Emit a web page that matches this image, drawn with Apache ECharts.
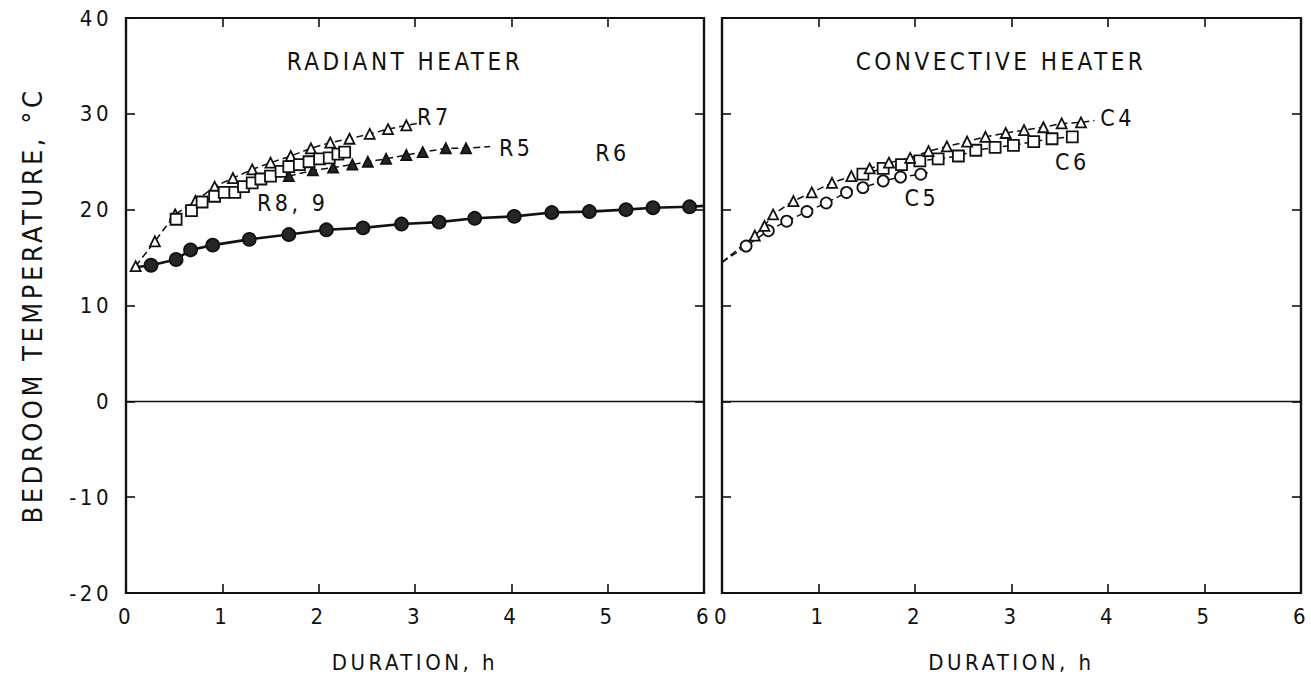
<!DOCTYPE html>
<html>
<head>
<meta charset="utf-8">
<script src="https://cdn.jsdelivr.net/npm/echarts@6/dist/echarts.min.js"></script>
<style>
  html, body { margin: 0; padding: 0; background: #fff; }
  #chart { width: 1311px; height: 680px; }
  #chart text { letter-spacing: 3.5px; }
</style>
</head>
<body>
<div id="chart"></div>
<script>
// duration (h), bedroom temperature (°C)
var R7 = [[0.10,14.1],[0.30,16.7],[0.51,19.5],[0.72,20.9],[0.92,22.4],[1.11,23.3],[1.31,24.2],[1.50,24.9],[1.71,25.6],[1.92,26.4],[2.12,27.0],[2.32,27.4],[2.53,27.9],[2.72,28.4],[2.91,28.8],[3.03,29.0]];
var R5 = [[1.69,23.5],[1.94,24.1],[2.15,24.4],[2.35,24.7],[2.51,25.0],[2.70,25.3],[2.91,25.7],[3.08,26.0],[3.32,26.4],[3.53,26.4],[3.78,26.6]];
var R89 = [[0.52,19.0],[0.68,19.9],[0.79,20.8],[0.92,21.4],[1.02,21.8],[1.13,21.8],[1.22,22.4],[1.31,22.8],[1.40,23.2],[1.50,23.5],[1.61,24.0],[1.69,24.5],[1.80,24.7],[1.90,25.0],[2.01,25.3],[2.11,25.4],[2.20,25.8],[2.27,26.0]];
var R6 = [[0.10,14.0],[0.26,14.2],[0.52,14.8],[0.67,15.8],[0.90,16.3],[1.28,16.9],[1.69,17.4],[2.08,17.9],[2.46,18.1],[2.86,18.5],[3.25,18.7],[3.62,19.1],[4.03,19.3],[4.42,19.7],[4.81,19.8],[5.19,20.0],[5.47,20.2],[5.85,20.3],[6.00,20.4]];
var C4 = [[0.00,14.5],[0.34,17.3],[0.44,18.3],[0.53,19.5],[0.74,20.9],[0.93,21.8],[1.14,22.8],[1.34,23.5],[1.53,24.3],[1.73,24.9],[1.95,25.4],[2.14,26.1],[2.33,26.6],[2.54,27.1],[2.73,27.6],[2.94,28.0],[3.13,28.3],[3.33,28.6],[3.52,29.0],[3.72,29.1],[3.86,29.3]];
var C5 = [[0.00,14.5],[0.25,16.2],[0.48,17.8],[0.67,18.8],[0.88,19.8],[1.08,20.7],[1.29,21.8],[1.46,22.3],[1.67,23.0],[1.85,23.4],[2.06,23.7],[2.16,23.9]];
var C6 = [[1.46,23.7],[1.67,24.3],[1.86,24.7],[2.05,25.1],[2.24,25.3],[2.45,25.6],[2.63,26.2],[2.83,26.5],[3.02,26.7],[3.23,27.1],[3.42,27.4],[3.63,27.6]];

var hourTicks = [0, 1, 2, 3, 4, 5, 6];
var tempTicks = [-20, -10, 0, 10, 20, 30, 40];

var FONT = "'DejaVu Sans Condensed', 'DejaVu Sans', sans-serif";

function xAx(grid, pos, labels) {
  return {
    type: 'value', gridIndex: grid, position: pos,
    min: hourTicks[0], max: hourTicks[hourTicks.length - 1], interval: 1,
    axisLine: { show: true, onZero: false, lineStyle: { color: '#111', width: 2.2 } },
    axisTick: { show: true, inside: true, length: 9, lineStyle: { color: '#111', width: 1.6 } },
    axisLabel: { show: labels, color: '#111', fontSize: 22, fontFamily: FONT, margin: 12 },
    splitLine: { show: false },
    name: labels ? 'DURATION, h' : '', nameLocation: 'middle', nameGap: 58,
    nameTextStyle: { color: '#111', fontSize: 22, fontFamily: FONT }
  };
}
function yAx(grid, pos, labels, name) {
  return {
    type: 'value', gridIndex: grid, position: pos,
    min: tempTicks[0], max: tempTicks[tempTicks.length - 1], interval: 10,
    axisLine: { show: true, onZero: false, lineStyle: { color: '#111', width: 2.2 } },
    axisTick: { show: true, inside: true, length: 9, lineStyle: { color: '#111', width: 1.6 } },
    axisLabel: { show: labels, color: '#111', fontSize: 22, fontFamily: FONT, margin: 14 },
    splitLine: { show: false },
    name: name || '', nameLocation: 'middle', nameGap: 80,
    nameTextStyle: { color: '#111', fontSize: 27, fontFamily: FONT }
  };
}

// end points that only carry the line (no marker drawn)
function pts(arr, hideFirst, hideLast) {
  return arr.map(function (p, i) {
    var bare = (hideFirst && i === 0) || (hideLast && i === arr.length - 1);
    return bare ? { value: p, symbol: 'none' } : p;
  });
}

function curve(name, data, panel, symbol, size, filled, dashed, tag, tagPos, hideFirst, hideLast) {
  return {
    name: name, type: 'line', xAxisIndex: panel * 2, yAxisIndex: panel * 2,
    data: pts(data, hideFirst, hideLast), symbol: symbol, symbolSize: size, showAllSymbol: true,
    itemStyle: { color: filled ? '#262626' : '#fff', borderColor: '#111', borderWidth: 1.8 },
    lineStyle: { color: '#111', width: dashed ? 1.5 : 2.6, type: dashed ? [7, 4] : 'solid' },
    animation: false,
    markPoint: {
      symbol: 'circle', symbolSize: 0, silent: true,
      label: { show: true, formatter: tag, color: '#111', fontSize: 23, fontFamily: FONT, position: 'inside' },
      data: [{ coord: tagPos }]
    }
  };
}

var chart = echarts.init(document.getElementById('chart'), null, { renderer: 'svg' });

var zeroLine = {
  symbol: 'none', silent: true, label: { show: false },
  lineStyle: { color: '#111', width: 1.3, type: 'solid' },
  data: [{ yAxis: 0 }]
};

var series = [
  curve('R6', R6, 0, 'circle', 13, true, false, 'R6', [5.05, 25.9], true, true),
  curve('R5', R5, 0, 'triangle', 10, true, true, 'R5', [4.05, 26.4], false, true),
  curve('R7', R7, 0, 'triangle', 10, false, true, 'R7', [3.2, 29.7], false, true),
  curve('R8, 9', R89, 0, 'rect', 11, false, true, 'R8, 9', [1.73, 20.7]),
  curve('C5', C5, 1, 'circle', 11, false, true, 'C5', [2.07, 21.2], true, true),
  curve('C6', C6, 1, 'rect', 11, false, true, 'C6', [3.63, 25.0]),
  curve('C4', C4, 1, 'triangle', 10, false, true, 'C4', [4.1, 29.6], true, true)
];
series[0].markLine = zeroLine;
series[4].markLine = zeroLine;

chart.setOption({
  backgroundColor: '#fff',
  animation: false,
  grid: [
    { left: 126, top: 18, width: 578, height: 575, show: true, borderColor: '#111', borderWidth: 2.2 },
    { left: 722, top: 18, width: 579, height: 575, show: true, borderColor: '#111', borderWidth: 2.2 }
  ],
  xAxis: [xAx(0, 'bottom', true), xAx(0, 'top', false), xAx(1, 'bottom', true), xAx(1, 'top', false)],
  yAxis: [yAx(0, 'left', true, 'BEDROOM TEMPERATURE, °C'), yAx(0, 'right', false), yAx(1, 'left', false), yAx(1, 'right', false)],
  graphic: [
    { type: 'text', x: 405, y: 62, style: { text: 'RADIANT HEATER', fill: '#111', font: '24px ' + FONT, textAlign: 'center', textVerticalAlign: 'middle' } },
    { type: 'text', x: 1001, y: 62, style: { text: 'CONVECTIVE HEATER', fill: '#111', font: '24px ' + FONT, textAlign: 'center', textVerticalAlign: 'middle' } }
  ],
  series: series
});
</script>
</body>
</html>
